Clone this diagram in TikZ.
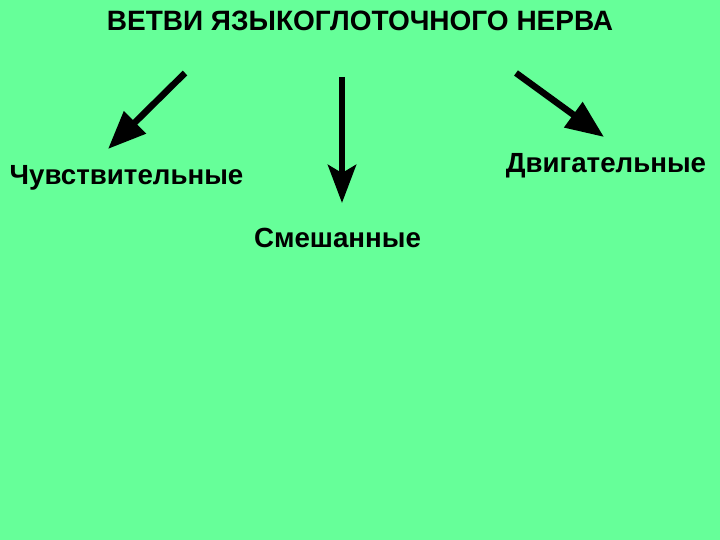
\documentclass[tikz,border=0pt]{standalone}
\usepackage{fontspec}
\setmainfont{Liberation Sans}
\usetikzlibrary{arrows.meta}
\definecolor{bggreen}{RGB}{102,255,153}

\begin{document}
\begin{tikzpicture}[x = 1pt, y = -1pt,
                      title/.style = {font = \bfseries\fontsize{28}{32}\selectfont},
                      branch/.style = {font = \bfseries\fontsize{27.7}{32}\selectfont},
                      fat/.style = {line width = 6.5pt, -{Triangle[length=38pt, width=30pt]}},
                      down/.style = {line width = 6.5pt, -{Stealth[length=38pt, width=28pt, inset=8pt]}}]
    \fill [bggreen] (0, 0) rectangle (720, 540);
    \useasboundingbox (0, 0) rectangle (720, 540);

    \node [title] (head) at (360, 21) {ВЕТВИ ЯЗЫКОГЛОТОЧНОГО НЕРВА};
    \node [branch] (sens) at (126.5, 178) {Чувствительные};
    \node [branch] (mixed) at (337.5, 238) {Смешанные};
    \node [branch] (motor) at (606, 166) {Двигательные};

    \coordinate (s1) at (185, 73);
    \coordinate (s2) at (342, 77);
    \coordinate (s3) at (516, 73);
    \coordinate (e1) at (108, 149);
    \coordinate (e2) at (342, 203);
    \coordinate (e3) at (604, 137);

    \draw [fat] (s1) -- (e1);
    \draw [down] (s2) -- (e2);
    \draw [fat] (s3) -- (e3);
\end{tikzpicture}
\end{document}
